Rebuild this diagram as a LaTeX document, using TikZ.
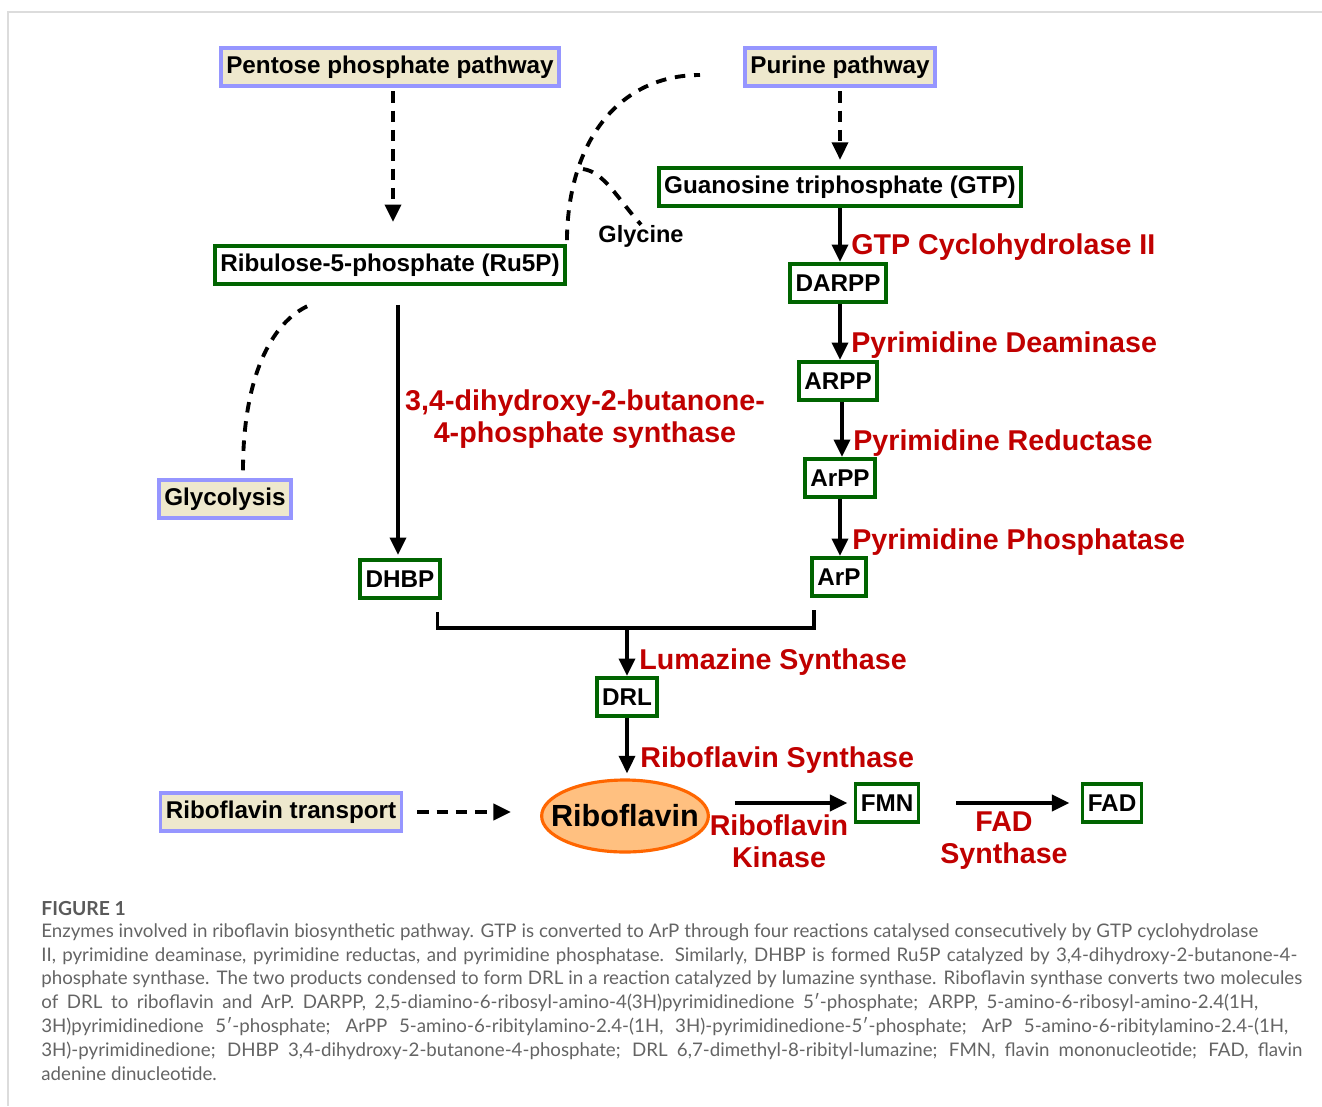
\documentclass[tikz,border=0pt]{standalone}
\usepackage{fontspec}
\setmainfont{Liberation Sans}
\newfontfamily\capfont{Lato}
\usetikzlibrary{arrows.meta,shapes.geometric,calc}

\definecolor{srcpurple}{RGB}{150,150,255}
\definecolor{srcbeige}{RGB}{238,232,205}
\definecolor{molgreen}{RGB}{0,100,0}
\definecolor{enzred}{RGB}{192,0,0}
\definecolor{ribofill}{RGB}{255,192,128}
\definecolor{riboline}{RGB}{255,102,0}
\definecolor{capgray}{RGB}{100,100,100}
\definecolor{framegray}{RGB}{220,220,220}

\newcommand{\capbox}[2]{\makebox[#1][s]{\strut #2}}

\tikzset{
  srcbox/.style={draw=srcpurple, fill=srcbeige, line width=2pt, inner xsep=3pt,
    minimum height=0.76cm, font=\fontsize{13.8}{16}\selectfont\bfseries},
  molbox/.style={draw=molgreen, fill=white, line width=2.2pt, inner xsep=3pt,
    minimum height=0.76cm, font=\fontsize{13.8}{16}\selectfont\bfseries},
  enzyme/.style={text=enzred, inner sep=0pt, align=center,
    font=\fontsize{16.3}{18.2}\selectfont\bfseries},
  flow/.style={line width=2.3pt, -{Triangle[length=10pt,width=9pt]}},
  feed/.style={flow, dash pattern=on 6.5pt off 4.5pt},
  branch/.style={line width=2.2pt, dash pattern=on 6pt off 5pt},
  capline/.style={anchor=west, inner sep=0pt, text=capgray,
    font=\capfont\fontsize{10.65}{12}\selectfont},
}

\begin{document}
\begin{tikzpicture}[x=0.02cm, y=-0.02cm]
    \useasboundingbox (0,0) rectangle (1322,1106);
    % Frame
    \draw[framegray, line width=1.2pt] (1322,12) -- (8,12) -- (8,1106);

    % Sources
    \node[srcbox] (ppp) at (390,67) {Pentose phosphate pathway};
    \node[srcbox] (purine) at (840,67) {Purine pathway};
    \node[srcbox] (glyco) at (225,499) {Glycolysis};
    \node[srcbox] (transport) at (281,812) {Riboflavin transport};

    % Intermediates
    \node[molbox] (gtp) at (840,187) {Guanosine triphosphate (GTP)};
    \node[molbox] (ru5p) at (390,265) {Ribulose-5-phosphate (Ru5P)};
    \node[molbox] (darpp) at (838,283) {DARPP};
    \node[molbox] (arpp) at (838,381) {ARPP};
    \node[molbox] (arpp2) at (840,478) {ArPP};
    \node[molbox] (arp) at (839,577) {ArP};
    \node[molbox] (dhbp) at (400,579) {DHBP};
    \node[molbox] (drl) at (627,697) {DRL};
    \node[draw=riboline, fill=ribofill, line width=1.8pt, ellipse, inner xsep=-8.5pt,
        inner ysep=0pt, minimum height=1.44cm,
        font=\fontsize{17.4}{20}\selectfont\bfseries] (ribo) at (625,816) {Riboflavin};
    \node[molbox] (fmn) at (887,803) {FMN};
    \node[molbox] (fad) at (1112,803) {FAD};
    \node[inner sep=0pt, font=\fontsize{13.4}{16}\selectfont\bfseries] (gly) at (641,236) {Glycine};

    % Dashed inputs
    \draw[feed, shorten <=2pt, shorten >=12.5pt] ($(ppp.south)+(3,0)$) -- ($(ru5p.north)+(3,0)$);
    \draw[feed, shorten <=2pt, shorten >=3.5pt] (purine.south) -- (gtp.north);
    \draw[feed, shorten <=8pt, shorten >=16.5pt] (transport.east) -- (transport.east -| ribo.west);
    \draw[branch] ($(ru5p.north east)+(0,-4)$) .. controls (568,140) and (620,75) .. (700,75);
    \draw[branch] (583,169) .. controls (604,172) and (617,198) .. (gly.north);
    \draw[branch] ($(glyco.north)+(18,-8)$) .. controls (243,380) and (270,322) .. (310,305);

    % Enzyme steps
    \draw[flow] (gtp.south) -- (gtp.south |- darpp.north);
    \draw[flow] ($(darpp.south)+(2,0)$) -- ($(arpp.north)+(2,0)$);
    \draw[flow] ($(arpp.south)+(4,0)$) -- ($(arpp.south |- arpp2.north)+(4,0)$);
    \draw[flow] (arpp2.south) -- (arp.north -| arpp2.south);
    \draw[flow] ($(ru5p.south)+(8,19)$) -- ($(dhbp.north)+(-2,-3)$);
    \coordinate (join) at (627,628);
    \draw[line width=2.2pt] ($(dhbp.south east)+(-4,12)$) |- (join) -| ($(arp.south west)+(4,12)$);
    \draw[flow] (join) -- (drl.north);
    \draw[flow] (drl.south) -- ($(ribo.north)+(2,-5)$);
    \draw[flow] ($(fmn.west -| ribo.east)+(25,0)$) -- ($(fmn.west)+(-6,0)$);
    \draw[flow] ($(fmn.east)+(36,0)$) -- ($(fad.west)+(-11,0)$);

    % Enzymes
    \node[enzyme, anchor=west] (gch) at (851,247) {GTP Cyclohydrolase II};
    \node[enzyme, anchor=west] (deam) at (851,345) {Pyrimidine Deaminase};
    \node[enzyme, anchor=west] (red) at (853,443) {Pyrimidine Reductase};
    \node[enzyme, anchor=west] (phos) at (852,542) {Pyrimidine Phosphatase};
    \node[enzyme] (dhbps) at (585,419) {3,4-dihydroxy-2-butanone-\\4-phosphate synthase};
    \node[enzyme, anchor=west] (lums) at (639,662) {Lumazine Synthase};
    \node[enzyme, anchor=west] (ribs) at (640,760) {Riboflavin Synthase};
    \node[enzyme] (ribk) at (779,841) {Riboflavin\\Kinase};
    \node[enzyme] (fads) at (1004,841) {FAD\\Synthase};

    % Caption
    \node[anchor=west, inner sep=0pt, text=capgray!90!black,
        font=\capfont\fontsize{11}{13}\selectfont\bfseries] (fig) at (41,908) {FIGURE 1};
    \node[capline] (c1) at (41,933) {\capbox{24.34cm}{Enzymes involved in riboflavin biosynthetic pathway. GTP is converted to ArP through four reactions catalysed consecutively by GTP cyclohydrolase}};
    \node[capline] (c2) at (41,957) {\capbox{25.12cm}{II, pyrimidine deaminase, pyrimidine reductas, and pyrimidine phosphatase. Similarly, DHBP is formed Ru5P catalyzed by 3,4-dihydroxy-2-butanone-4-}};
    \node[capline] (c3) at (41,980) {\capbox{25.22cm}{phosphate synthase. The two products condensed to form DRL in a reaction catalyzed by lumazine synthase. Riboflavin synthase converts two molecules}};
    \node[capline] (c4) at (41,1004) {\capbox{24.34cm}{of DRL to riboflavin and ArP. DARPP, 2,5-diamino-6-ribosyl-amino-4(3H)pyrimidinedione 5′-phosphate; ARPP, 5-amino-6-ribosyl-amino-2.4(1H,}};
    \node[capline] (c5) at (41,1028) {\capbox{24.94cm}{3H)pyrimidinedione 5′-phosphate; ArPP 5-amino-6-ribitylamino-2.4-(1H, 3H)-pyrimidinedione-5′-phosphate; ArP 5-amino-6-ribitylamino-2.4-(1H,}};
    \node[capline] (c6) at (41,1052) {\capbox{25.22cm}{3H)-pyrimidinedione; DHBP 3,4-dihydroxy-2-butanone-4-phosphate; DRL 6,7-dimethyl-8-ribityl-lumazine; FMN, flavin mononucleotide; FAD, flavin}};
    \node[capline] (c7) at (41,1076) {\strut adenine dinucleotide.};
\end{tikzpicture}
\end{document}
